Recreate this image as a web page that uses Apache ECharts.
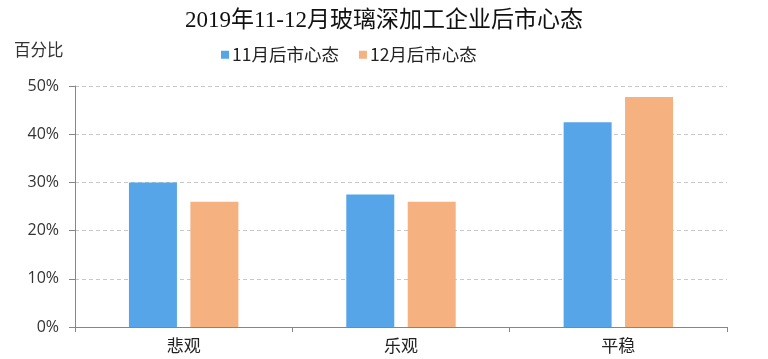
<!DOCTYPE html>
<html><head><meta charset="utf-8">
<script src="https://cdn.jsdelivr.net/npm/echarts@6/dist/echarts.min.js"></script>
<style>html,body{margin:0;padding:0;background:#fff}#c{width:768px;height:359px}</style>
</head><body><div id="c"></div>
<script>
const categories = ['悲观', '乐观', '平稳'];
const nov = [30, 27.5, 42.5];
const dec = [26, 26, 47.7];
const seriesNames = ['11月后市心态', '12月后市心态'];
const titleText = '2019年11-12月玻璃深加工企业后市心态';
const yName = '百分比';

const chart = echarts.init(document.getElementById('c'));
chart.setOption({
  animation: false,
  backgroundColor: '#fff',
  title: {
    text: titleText, left: 'center', top: 4,
    textStyle: { fontFamily: '"Liberation Serif","Noto Sans CJK SC"', fontSize: 23, fontWeight: 'normal', color: '#111' }
  },
  legend: {
    top: 41, left: 216, itemWidth: 8, itemHeight: 8, itemGap: 20,
    icon: 'rect',
    textStyle: { fontFamily: '"Noto Sans CJK SC"', fontSize: 17.5, color: '#222', padding: [0, 0, 0, -2] },
    data: seriesNames
  },
  graphic: [{
    type: 'text', left: 14, top: 41,
    style: { text: yName, font: '16.5px "Noto Sans CJK SC"', fill: '#333' }
  }],
  grid: { left: 75, right: 41, top: 86, bottom: 32, containLabel: false },
  xAxis: {
    type: 'category', data: categories,
    axisLine: { lineStyle: { color: '#868686', width: 1 } },
    axisTick: { show: true, length: 5, lineStyle: { color: '#868686' } },
    axisLabel: { fontFamily: '"Noto Sans CJK SC"', fontSize: 17, color: '#222', margin: 10 }
  },
  yAxis: {
    type: 'value', min: 0, max: 50, interval: 10,
    axisLine: { show: true, lineStyle: { color: '#868686' } },
    axisTick: { show: true, length: 6, lineStyle: { color: '#868686' } },
    axisLabel: { formatter: '{value}%', fontFamily: '"Open Sans"', fontSize: 16, color: '#333', margin: 16 },
    splitLine: { lineStyle: { type: [4, 3], color: '#c8c8c8' } }
  },
  series: [
    { name: seriesNames[0], type: 'bar', data: nov, barWidth: 48, barGap: '28%',
      itemStyle: { color: '#57a5e9' } },
    { name: seriesNames[1], type: 'bar', data: dec, barWidth: 48,
      itemStyle: { color: '#f5b280' } }
  ]
});
</script></body></html>
